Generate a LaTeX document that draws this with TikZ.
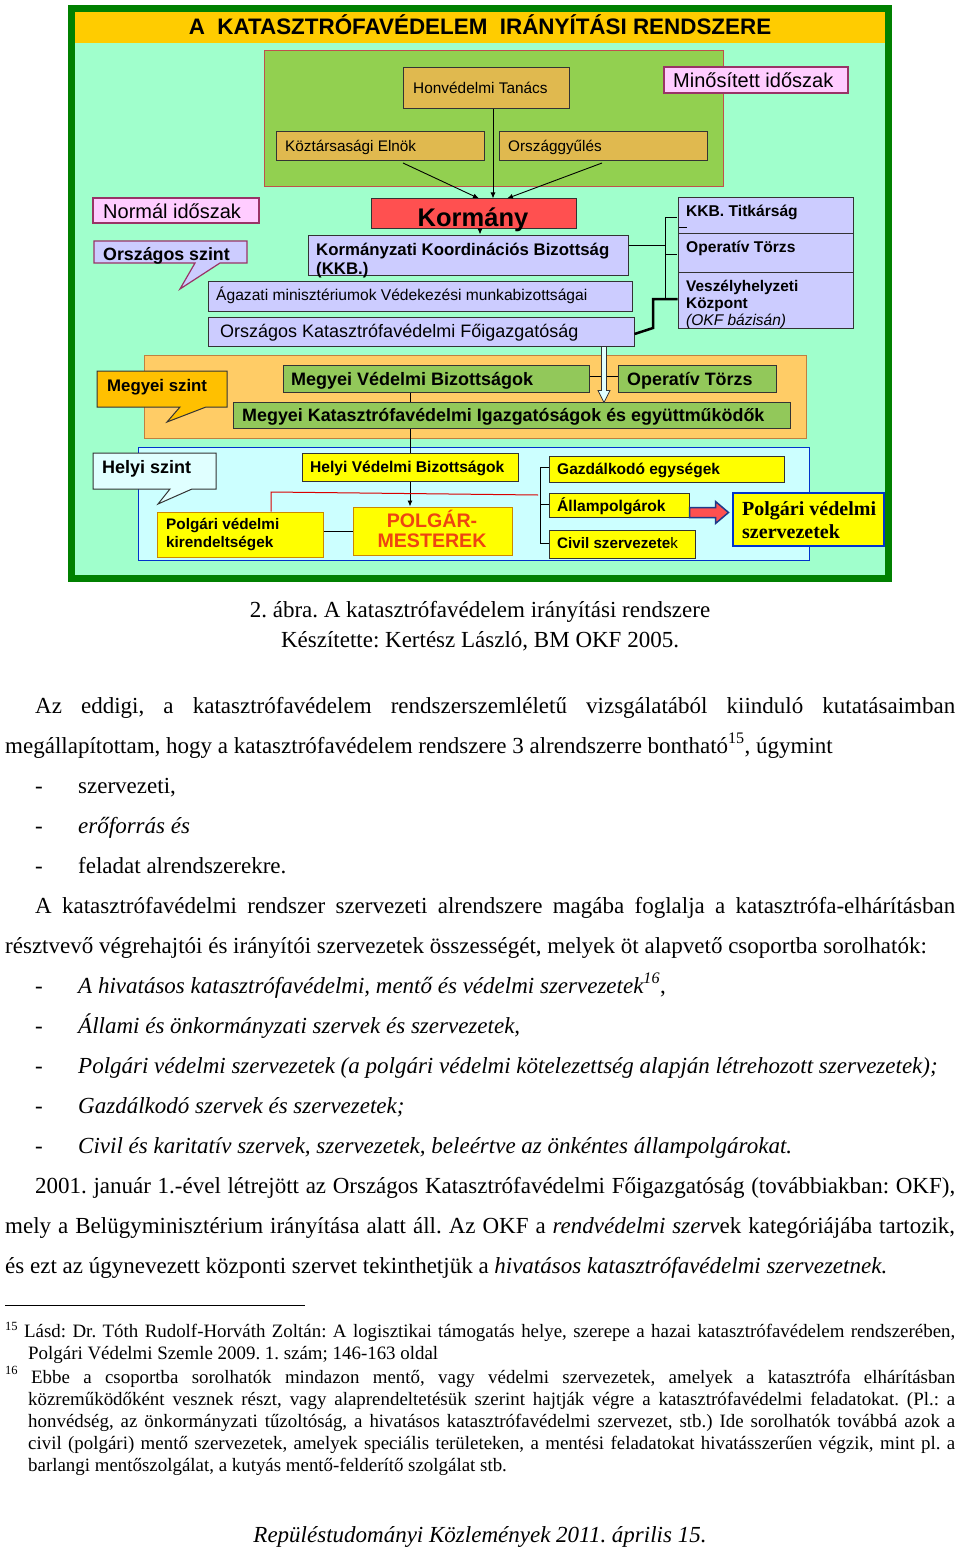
\documentclass[tikz,border=0pt]{standalone}
\usepackage{fontspec}
\setmainfont{Liberation Serif}
\newfontfamily\arialf{Liberation Sans}
\usetikzlibrary{fit,arrows.meta,calc}
\frenchspacing
\newcommand\myfs[1]{\fontsize{#1}{#1}\selectfont}
\newcommand\mybox[6]{\node[#1, fit={(#3,#4)(#5,#6)}, inner sep=0pt] (#2) {};}
\definecolor{mint}{HTML}{A0FFCC}
\definecolor{frameg}{HTML}{008000}
\definecolor{titley}{HTML}{FFCC00}
\definecolor{olive}{HTML}{92D050}
\definecolor{oliveb}{HTML}{C0504D}
\definecolor{tan}{HTML}{E0B94F}
\definecolor{lav}{HTML}{CCCCFF}
\definecolor{kred}{HTML}{FF5050}
\definecolor{pinkf}{HTML}{FFCCFF}
\definecolor{pinkb}{HTML}{993366}
\definecolor{orp}{HTML}{FFCC66}
\definecolor{orpb}{HTML}{C08040}
\definecolor{mgreen}{HTML}{92C85A}
\definecolor{gold}{HTML}{FFC000}
\definecolor{cyanp}{HTML}{CCFFFF}
\definecolor{cyanc}{HTML}{E0FFFF}
\definecolor{bluep}{HTML}{0033CC}
\definecolor{yel}{HTML}{FFFF00}
\definecolor{yelb}{HTML}{CC8800}
\definecolor{polg}{HTML}{EE4411}
\definecolor{navy}{HTML}{1F3A8A}
\definecolor{dk}{HTML}{333333}
\tikzset{
  tanbox/.style={fill=tan, draw=dk, line width=1pt},
  lavbox/.style={fill=lav, draw=dk, line width=1pt},
  redbox/.style={fill=kred, draw=dk, line width=1pt},
  pinkbox/.style={fill=pinkf, draw=pinkb, line width=1.5pt},
  grnbox/.style={fill=mgreen, draw=dk, line width=1pt},
  yelbox/.style={fill=yel, draw=dk, line width=1pt},
  yelobox/.style={fill=yel, draw=yelb, line width=1pt},
  tx/.style={inner sep=0pt, anchor=base west},
  sf/.style={font=\arialf\myfs{#1}},
  sfb/.style={font=\arialf\bfseries\myfs{#1}},
  ln/.style={draw=black, line width=0.9pt},
  arr/.style={draw=black, line width=0.9pt, -{Latex[length=6pt,width=5pt]}},
  body/.style={inner sep=0pt, anchor=base west, font=\myfs{23}},
  foot/.style={inner sep=0pt, anchor=base west, font=\myfs{18.9}},
}
\begin{document}
\begin{tikzpicture}[x=1pt,y=-1pt]
\useasboundingbox (0,0) rectangle (960,1549);
\fill[white] (0,0) rectangle (960,1549);
% frame
\draw[draw=frameg, fill=mint, line width=7pt] (71.5,8.5) rectangle (888.5,578.5);
\fill[titley] (75,12) rectangle (885,43);
\node[inner sep=0pt, anchor=base, font=\arialf\bfseries\myfs{22.4}] (title) at (480,35) {A\ \ KATASZTRÓFAVÉDELEM\ \ IRÁNYÍTÁSI RENDSZERE};
% minositett panel
\mybox{fill=olive, draw=oliveb, line width=1pt}{mpanel}{264}{51}{723}{187}
\mybox{tanbox}{honv}{403}{68}{569}{109}
\mybox{tanbox}{elnok}{276}{132}{484}{161}
\mybox{tanbox}{orszgy}{499}{132}{707}{161}
\mybox{pinkbox}{minos}{664}{67}{848}{93}
\node[tx, sf=15.4] at (413,94) {Honvédelmi Tanács};
\node[tx, sf=15.3] at (285,151.5) {Köztársasági Elnök};
\node[tx, sf=15.3] at (508,151.5) {Országgyűlés};
\node[tx, sf=20] at (673,87.5) {Minősített időszak};
% normal
\mybox{pinkbox}{normal}{93}{198}{259}{223}
\node[tx, sf=20] at (103,218.5) {Normál időszak};
\draw[fill=lav, draw=pinkb, line width=1.2pt] (94,241) -- (247,241) -- (247,263) -- (220,263) -- (180,289) -- (195,263) -- (94,263) -- cycle;
\node[tx, sfb=17.8] (orszsz) at (103,260.5) {Országos szint};
% kormany
\mybox{redbox}{korm}{371}{199}{576}{228}
\mybox{lavbox}{kkb}{308}{235}{628}{275}
\mybox{lavbox}{agaz}{208}{281}{632}{311}
\mybox{lavbox}{okf}{208}{317}{634}{346}
\node[inner sep=0pt, anchor=base, font=\arialf\bfseries\myfs{25.5}] at (473,226) {Kormány};
\node[tx, sfb=16.8] at (316,255) {Kormányzati Koordinációs Bizottság};
\node[tx, sfb=16.8] at (316,274) {(KKB.)};
\node[tx, sf=15.6] at (216,300.5) {Ágazati minisztériumok Védekezési munkabizottságai};
\node[tx, sf=18] at (220,337.5) {Országos Katasztrófavédelmi Főigazgatóság};
\draw[arr] (honv.south -| 493,0) -- (korm.north -| 493,0);
\draw[arr] (403,163) -- (korm.north -| 479,0);
\draw[arr] (602,163) -- (korm.north -| 507,0);
\draw[arr] (korm.south -| 480,0) -- (kkb.north -| 480,0);
% right group
\mybox{lavbox}{titk}{678}{198}{853}{233}
\mybox{lavbox}{optr}{678}{233}{853}{272}
\mybox{lavbox}{vesz}{678}{272}{853}{328}
\node[tx, sfb=15.6] at (686,216.5) {KKB. Titkárság};
\node[tx, sfb=15.6] at (686,252.5) {Operatív Törzs};
\node[tx, sfb=15.4] at (686,291.5) {Veszélyhelyzeti};
\node[tx, sfb=15.4] at (686,308.5) {Központ};
\node[tx, font=\arialf\itshape\myfs{15.5}] at (686,325) {(OKF bázisán)};
\coordinate (brt) at (665,217);
\coordinate (brb) at (665,299);
\draw[ln] (brt) -- (brb);
\draw[ln] (brt) -- (677,217);
\draw[ln] (665,254) -- (677,254);
\draw[ln] (679,227) -- (687,227);
\draw[ln] (kkb.east |- 0,245) -- (665,245);
\draw[draw=black, line width=2.5pt] (okf.east |- 0,334) -- (653,328) -- (653,299) -- (vesz.west |- 0,299);
% megyei panel
\mybox{fill=orp, draw=orpb, line width=1pt}{mpan}{144}{355}{806}{438}
\draw[fill=gold, draw=dk, line width=1pt] (97,371) -- (227,371) -- (227,407) -- (206,407) -- (167,422) -- (180,407) -- (97,407) -- cycle;
\node[tx, sfb=16.8] at (107,391) {Megyei szint};
\mybox{grnbox}{mvb}{283}{365}{589}{392}
\mybox{grnbox}{mot}{618}{365}{776}{392}
\mybox{grnbox}{mki}{233}{402}{790}{428}
\node[tx, sfb=18] at (291,385.5) {Megyei Védelmi Bizottságok};
\node[tx, sfb=17.9] at (627,385.5) {Operatív Törzs};
\node[tx, sfb=17.9] at (242,421.5) {Megyei Katasztrófavédelmi Igazgatóságok és együttműködők};
\draw[ln] (mvb.east |- 0,376) -- (mot.west |- 0,376);
\draw[ln] (mvb.south -| 410,0) -- (mki.north -| 410,0);
% hollow arrow okf -> mki
\coordinate (ha) at (okf.south -| 604,0);
\draw[fill=cyanc, draw=dk, line width=0.8pt] ($(ha)+(-2.5,0)$) -- ($(ha)+(-2.5,44)$) -- ($(ha)+(-6,44)$) -- ($(ha)+(0,56)$) -- ($(ha)+(6,44)$) -- ($(ha)+(2.5,44)$) -- ($(ha)+(2.5,0)$) -- cycle;
% helyi panel
\mybox{fill=cyanp, draw=bluep, line width=1pt}{hpan}{138}{447}{809}{560}
\draw[fill=cyanc, draw=dk, line width=1pt] (93,453) -- (216,453) -- (216,489) -- (192,489) -- (158,504) -- (170,489) -- (93,489) -- cycle;
\node[tx, sfb=18] at (102,473.5) {Helyi szint};
\mybox{yelbox}{hvb}{302}{453}{518}{481}
\node[tx, sfb=15.6] at (310,472.5) {Helyi Védelmi Bizottságok};
\draw[ln] (mki.south -| 410,0) -- (hvb.north -| 410,0);
\mybox{yelobox}{polgm}{353}{507}{512}{555}
\node[inner sep=0pt, anchor=base, font=\arialf\bfseries\myfs{19.6}, text=polg] at (432,527.5) {POLGÁR-};
\node[inner sep=0pt, anchor=base, font=\arialf\bfseries\myfs{19.6}, text=polg] at (432,547.5) {MESTEREK};
\draw[arr] (hvb.south -| 410,0) -- (polgm.north -| 410,0);
\mybox{yelobox}{pvk}{157}{512}{323}{557}
\node[tx, sfb=15.3] at (166,529.5) {Polgári védelmi};
\node[tx, sfb=15.3] at (166,547.5) {kirendeltségek};
\draw[ln] (pvk.east |- 0,531) -- (polgm.west |- 0,531);
\draw[draw=red!85!black, line width=1pt] (pvk.north -| 271,0) -- (271,492) -- (538,495);
\mybox{yelbox}{gazd}{549}{456}{784}{482}
\mybox{yelbox}{allam}{549}{493}{689}{517}
\mybox{yelbox}{civil}{549}{530}{695}{558}
\node[tx, sfb=15.5] at (557,474.5) {Gazdálkodó egységek};
\node[tx, sfb=15.6] at (557,511) {Állampolgárok};
\node[tx, sfb=15.2] at (557,548.5) {Civil szervezete\mdseries k};
\draw[ln] (gazd.west |- 0,467) -- (540,467) -- (540,543) -- (civil.west |- 0,543);
\draw[ln] (540,504) -- (allam.west |- 0,504);
\node[fit={(733,493)(884,546)}, inner sep=0pt, fill=yel, draw=bluep, line width=2pt] (pvsz) {};
\node[tx, font=\bfseries\myfs{20}] at (742,515) {Polgári védelmi};
\node[tx, font=\bfseries\myfs{20}] at (742,538) {szervezetek};
\coordinate (fa) at (allam.east |- 0,512.5);
\draw[fill=kred, draw=navy, line width=1.5pt, line join=miter] ($(fa)+(0,-5)$) -- ($(fa)+(26,-5)$) -- ($(fa)+(26,-11)$) -- ($(fa)+(39,0)$) -- ($(fa)+(26,11)$) -- ($(fa)+(26,5)$) -- ($(fa)+(0,5)$) -- cycle;
% caption
\node[inner sep=0pt, anchor=base, font=\myfs{23}] at (480,617) {2. ábra. A katasztrófavédelem irányítási rendszere};
\node[inner sep=0pt, anchor=base, font=\myfs{23}] at (480,647) {Készítette: Kertész László, BM OKF 2005.};
% body
\node[body] at (35,713) {\makebox[920pt][s]{Az eddigi, a katasztrófavédelem rendszerszemléletű vizsgálatából kiinduló kutatásaimban}};
\node[body] at (5,753) {megállapítottam, hogy a katasztrófavédelem rendszere 3 alrendszerre bontható\textsuperscript{15}, úgymint};
\node[body] at (35,793) {-}; \node[body] at (78,793) {szervezeti,};
\node[body] at (35,833) {-}; \node[body] at (78,833) {\itshape erőforrás és};
\node[body] at (35,873) {-}; \node[body] at (78,873) {feladat alrendszerekre.};
\node[body] at (35,913) {\makebox[920pt][s]{A katasztrófavédelmi rendszer szervezeti alrendszere magába foglalja a katasztrófa-elhárításban}};
\node[body] at (5,953) {résztvevő végrehajtói és irányítói szervezetek összességét, melyek öt alapvető csoportba sorolhatók:};
\node[body] at (35,993) {-}; \node[body] at (78,993) {\itshape A hivatásos katasztrófavédelmi, mentő és védelmi szervezetek\textsuperscript{16}\upshape,};
\node[body] at (35,1033) {-}; \node[body] at (78,1033) {\itshape Állami és önkormányzati szervek és szervezetek,};
\node[body] at (35,1073) {-}; \node[body] at (78,1073) {\itshape Polgári védelmi szervezetek (a polgári védelmi kötelezettség alapján létrehozott szervezetek);};
\node[body] at (35,1113) {-}; \node[body] at (78,1113) {\itshape Gazdálkodó szervek és szervezetek;};
\node[body] at (35,1153) {-}; \node[body] at (78,1153) {\itshape Civil és karitatív szervek, szervezetek, beleértve az önkéntes állampolgárokat.};
\node[body] at (35,1193) {\makebox[920pt][s]{2001. január 1.-ével létrejött az Országos Katasztrófavédelmi Főigazgatóság (továbbiakban: OKF),}};
\node[body] at (5,1233) {\makebox[950pt][s]{mely a Belügyminisztérium irányítása alatt áll. Az OKF a \textit{rendvédelmi szerv}ek kategóriájába tartozik,}};
\node[body] at (5,1273) {és ezt az úgynevezett központi szervet tekinthetjük a \textit{hivatásos katasztrófavédelmi szervezetnek.}};
% footnotes
\coordinate (fr1) at (5,1305);
\coordinate (fr2) at (305,1305);
\draw[line width=1pt] (fr1) -- (fr2);
\node[inner sep=0pt, anchor=base west, font=\myfs{12.5}] at (5,1330) {15};
\node[foot] at (24,1337) {\makebox[931pt][s]{Lásd: Dr. Tóth Rudolf-Horváth Zoltán: A logisztikai támogatás helye, szerepe a hazai katasztrófavédelem rendszerében,}};
\node[foot] at (28,1359) {Polgári Védelmi Szemle 2009. 1. szám; 146-163 oldal};
\node[inner sep=0pt, anchor=base west, font=\myfs{12.5}] at (5,1374) {16};
\node[foot] at (31,1383) {\makebox[924pt][s]{Ebbe a csoportba sorolhatók mindazon mentő, vagy védelmi szervezetek, amelyek a katasztrófa elhárításban}};
\node[foot] at (28,1405) {\makebox[927pt][s]{közreműködőként vesznek részt, vagy alaprendeltetésük szerint hajtják végre a katasztrófavédelmi feladatokat. (Pl.: a}};
\node[foot] at (28,1427) {\makebox[927pt][s]{honvédség, az önkormányzati tűzoltóság, a hivatásos katasztrófavédelmi szervezet, stb.) Ide sorolhatók továbbá azok a}};
\node[foot] at (28,1449) {\makebox[927pt][s]{civil (polgári) mentő szervezetek, amelyek speciális területeken, a mentési feladatokat hivatásszerűen végzik, mint pl. a}};
\node[foot] at (28,1471) {barlangi mentőszolgálat, a kutyás mentő-felderítő szolgálat stb.};
\node[inner sep=0pt, anchor=base, font=\itshape\myfs{23}] at (480,1542) {Repüléstudományi Közlemények 2011. április 15.};
\end{tikzpicture}
\end{document}
